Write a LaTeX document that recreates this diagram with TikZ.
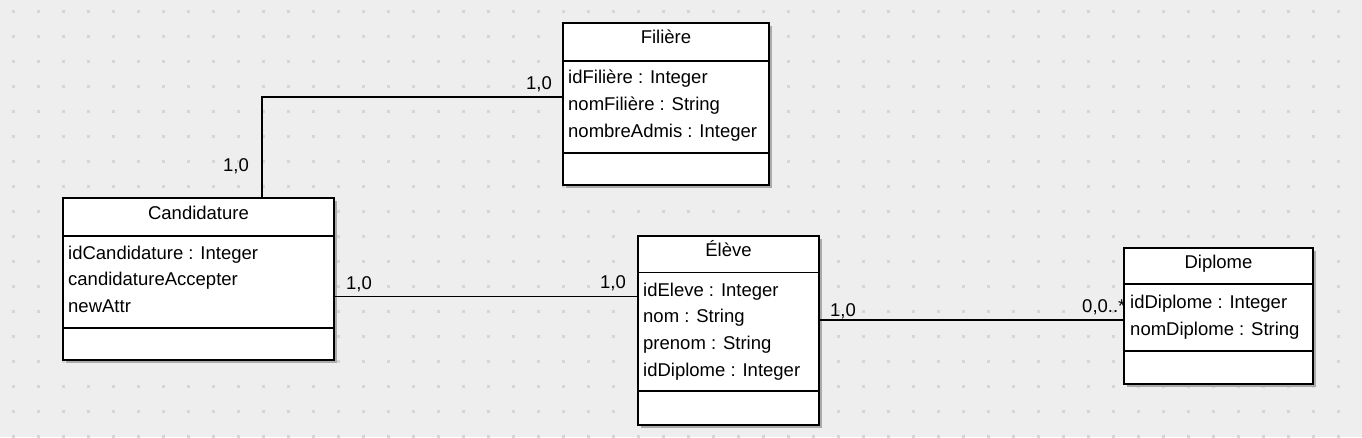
\documentclass[tikz,border=0pt]{standalone}
\usepackage{fontspec}
\setmainfont{Liberation Sans}
\usetikzlibrary{shadows}
\definecolor{bgc}{HTML}{EEEEEE}
\definecolor{dotc}{HTML}{D6D6D6}
\definecolor{shc}{HTML}{ABABAB}
\tikzset{
  cls/.style={draw=black, line width=2pt, fill=white, inner sep=0pt, outer sep=0pt,
    anchor=north west, general shadow={shadow xshift=3pt, shadow yshift=-3pt, fill=shc}},
  sepline/.style={line width=1.2pt},
  conn/.style={line width=1.8pt},
  txt/.style={anchor=base west, inner sep=0pt, font=\fontsize{18.5}{22}\selectfont},
  ttl/.style={anchor=base, inner sep=0pt, font=\fontsize{18.5}{22}\selectfont},
}
\begin{document}
\begin{tikzpicture}[x=1pt,y=-1pt]
\useasboundingbox (0,0) rectangle (1362,437);
\fill[bgc] (0,0) rectangle (1362,437);
\foreach \j in {0,...,17}
  \draw[dotc, line width=3pt, dash pattern=on 3pt off 22pt] (12,{11.5+25*\j}) -- (1362,{11.5+25*\j});

% Filiere
\node[cls, minimum width=206pt, minimum height=162pt] (fil) at (563,23) {};
\draw[sepline] ([yshift=-38pt]fil.north west) -- ([yshift=-38pt]fil.north east);
\draw[sepline] ([yshift=-130pt]fil.north west) -- ([yshift=-130pt]fil.north east);
\node[ttl] (filT) at ([yshift=-20.5pt]fil.north) {Filière};
\node[txt] (filA1) at ([shift={(5pt,-60pt)}]fil.north west) {idFilière : Integer};
\node[txt] (filA2) at ([shift={(5pt,-87pt)}]fil.north west) {nomFilière : String};
\node[txt] (filA3) at ([shift={(5pt,-114pt)}]fil.north west) {nombreAdmis : Integer};

% Candidature
\node[cls, minimum width=271pt, minimum height=162pt] (cand) at (63,198) {};
\draw[sepline] ([yshift=-38pt]cand.north west) -- ([yshift=-38pt]cand.north east);
\draw[sepline] ([yshift=-130pt]cand.north west) -- ([yshift=-130pt]cand.north east);
\node[ttl] (candT) at ([yshift=-21pt]cand.north) {Candidature};
\node[txt] (candA1) at ([shift={(5pt,-61pt)}]cand.north west) {idCandidature : Integer};
\node[txt] (candA2) at ([shift={(5pt,-87.5pt)}]cand.north west) {candidatureAccepter};
\node[txt] (candA3) at ([shift={(5pt,-114pt)}]cand.north west) {newAttr};

% Eleve
\node[cls, minimum width=181pt, minimum height=189pt] (elv) at (638,235.5) {};
\draw[sepline] ([yshift=-37pt]elv.north west) -- ([yshift=-37pt]elv.north east);
\draw[sepline] ([yshift=-155.5pt]elv.north west) -- ([yshift=-155.5pt]elv.north east);
\node[ttl] (elvT) at ([yshift=-20.5pt]elv.north) {Élève};
\node[txt] (elvA1) at ([shift={(5pt,-60.5pt)}]elv.north west) {idEleve : Integer};
\node[txt] (elvA2) at ([shift={(5pt,-87.2pt)}]elv.north west) {nom : String};
\node[txt] (elvA3) at ([shift={(5pt,-113.9pt)}]elv.north west) {prenom : String};
\node[txt] (elvA4) at ([shift={(5pt,-140.6pt)}]elv.north west) {idDiplome : Integer};

% connectors and multiplicities
\draw[conn] ([xshift=199pt]cand.north west) |- ([yshift=-74pt]fil.north west);
\draw[conn] ([yshift=-98.5pt]cand.north east) -- ([yshift=-61pt]elv.north west);
\coordinate (dipL) at (1124,320);
\draw[conn] ([yshift=-84.5pt]elv.north east) -- (dipL);
\node[txt] (m1) at (526,89) {1,0};
\node[txt] (m2) at (223,171) {1,0};
\node[txt] (m3) at (346,289) {1,0};
\node[txt] (m4) at (600,288) {1,0};
\node[txt] (m5) at (830,316) {1,0};
\node[txt] (m6) at (1082,312) {0,0..*};

% Diplome
\node[cls, minimum width=189pt, minimum height=136pt] (dip) at (1124,248) {};
\draw[sepline] ([yshift=-36pt]dip.north west) -- ([yshift=-36pt]dip.north east);
\draw[sepline] ([yshift=-103pt]dip.north west) -- ([yshift=-103pt]dip.north east);
\node[ttl] (dipT) at ([yshift=-20pt]dip.north) {Diplome};
\node[txt] (dipA1) at ([shift={(6pt,-60pt)}]dip.north west) {idDiplome : Integer};
\node[txt] (dipA2) at ([shift={(6pt,-87pt)}]dip.north west) {nomDiplome : String};
\end{tikzpicture}
\end{document}
